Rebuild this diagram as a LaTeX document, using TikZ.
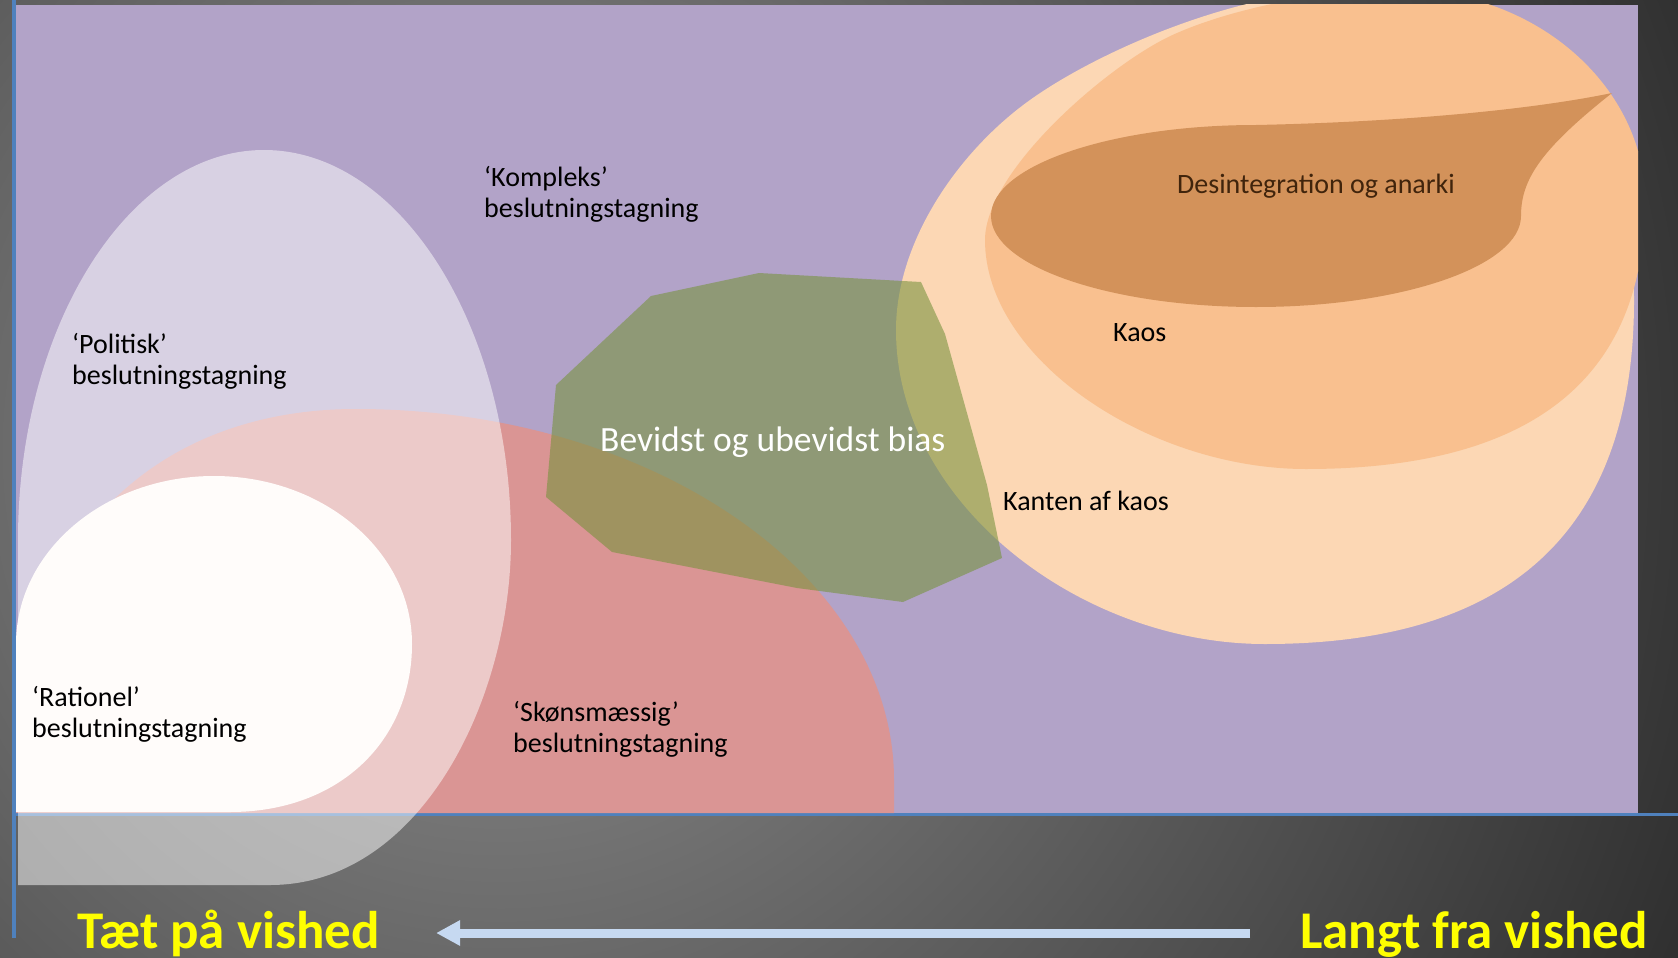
\documentclass[tikz,border=0pt]{standalone}
\usepackage{fontspec}
\setmainfont{Carlito}
\usetikzlibrary{positioning,arrows.meta}

\definecolor{bgpurple}{RGB}{178,163,200}
\definecolor{axisblue}{RGB}{79,129,189}
\definecolor{skoenred}{RGB}{218,149,148}
\definecolor{biasgreen}{RGB}{118,146,60}
\definecolor{edgepeach}{RGB}{252,215,180}
\definecolor{kaosorange}{RGB}{249,192,143}
\definecolor{anarkibrown}{RGB}{211,146,90}
\definecolor{anarkitext}{RGB}{64,36,12}
\definecolor{arrowblue}{RGB}{198,217,241}
\definecolor{vishedyellow}{RGB}{255,255,0}
\definecolor{bginner}{RGB}{144,144,144}
\definecolor{bgouter}{RGB}{31,31,31}

\tikzset{
  lbl/.style={font=\fontsize{28}{31}\selectfont, anchor=base west, align=left, inner sep=0pt},
  vished/.style={font=\fontsize{53}{57}\selectfont\bfseries, text=vishedyellow,
    text height=40pt, text depth=10pt, inner sep=0pt, anchor=base west},
  arr/.style={draw=arrowblue, line width=9pt, -{Triangle[length=24pt,width=24pt]}}
}

\begin{document}
\begin{tikzpicture}[x=1pt,y=-1pt]
  \useasboundingbox (0,0) rectangle (1678,958);
  % background
  \begin{scope}
    \clip (0,0) rectangle (1678,958);
    \fill[bgouter] (0,0) rectangle (1678,958);
    \shade[inner color=bginner, outer color=bgouter] (500,450) circle (1500);
  \end{scope}
  \fill[bgpurple] (15,5) rectangle (1638,813);
  \draw[axisblue, line width=3.5pt] (14,0) -- (14,938);
  \draw[axisblue, line width=3pt] (14,814) -- (1678,814);

  % skoensmaessig
  \fill[skoenred] (894,813) -- (894,780) .. controls (894,576) and (652,409) .. (356,409)
    .. controls (190,409) and (50,500) .. (16,700) -- (16,813) -- cycle;

  % kaos
  \begin{scope}
    \clip (15,5) rectangle (1638,813);
    \fill[edgepeach] (896,330) .. controls (896,240) and (960,150) .. (1030,100)
      .. controls (1100,50) and (1240,-10) .. (1350,-10)
      .. controls (1500,-10) and (1634,120) .. (1634,300)
      .. controls (1634,540) and (1500,644) .. (1265,644)
      .. controls (1080,644) and (896,503) .. (896,330) -- cycle;
    \fill[kaosorange] (985,240) .. controls (985,170) and (1113,60) .. (1177,33)
      .. controls (1232,9) and (1320,-10) .. (1400,-10)
      .. controls (1540,-10) and (1645,90) .. (1645,200)
      .. controls (1645,380) and (1530,469) .. (1306,469)
      .. controls (1150,469) and (985,360) .. (985,240) -- cycle;
  \end{scope}
  \fill[anarkibrown] (991,216) .. controls (991,166) and (1110,125) .. (1256,125)
    .. controls (1400,122) and (1530,110) .. (1612,93)
    .. controls (1540,150) and (1521,180) .. (1521,216)
    .. controls (1521,266) and (1402,307) .. (1256,307)
    .. controls (1110,307) and (991,266) .. (991,216) -- cycle;

  % bias
  \fill[biasgreen, opacity=0.58] (651,296) -- (759,273) -- (921,282) -- (945,334)
    -- (987,485) -- (1002,558) -- (903,602) -- (797,588) -- (612,552)
    -- (546,497) -- (556,385) -- cycle;

  % politisk
  \fill[white, opacity=0.5] (18,885) -- (270,885) .. controls (420,885) and (511,700) .. (511,540)
    .. controls (511,326) and (400,150) .. (264,150)
    .. controls (129,150) and (18,326) .. (18,540) -- cycle;

  % rationel
  \fill[white!98!orange] (16,812) -- (230,812) .. controls (340,812) and (412,740) .. (412,644)
    .. controls (412,551) and (323,476) .. (214,476)
    .. controls (105,476) and (16,551) .. (16,644) -- cycle;

  \node[lbl] (kompleks) at (484,217) {‘Kompleks’\\beslutningstagning};
  \node[lbl] (politisk) at (72,384) {‘Politisk’\\beslutningstagning};
  \node[lbl] (rationel) at (32,737) {‘Rationel’\\beslutningstagning};
  \node[lbl] (skoen) at (513,752) {‘Skønsmæssig’\\beslutningstagning};
  \node[lbl, font=\fontsize{35.5}{40}\selectfont, text=white] (bias) at (600,451) {Bevidst og ubevidst bias};
  \node[lbl, text=anarkitext] (anarki) at (1177,193) {Desintegration og anarki};
  \node[lbl] (kaos) at (1113,341) {Kaos};
  \node[lbl] (kanten) at (1003,510) {Kanten af kaos};

  \node[vished] (taet) at (77,948) {Tæt på vished};
  \node[vished] (langt) at (1300,948) {Langt fra vished};
  \draw[arr, shorten <=50pt, shorten >=56pt] (langt.west) -- (taet.east);
\end{tikzpicture}
\end{document}
